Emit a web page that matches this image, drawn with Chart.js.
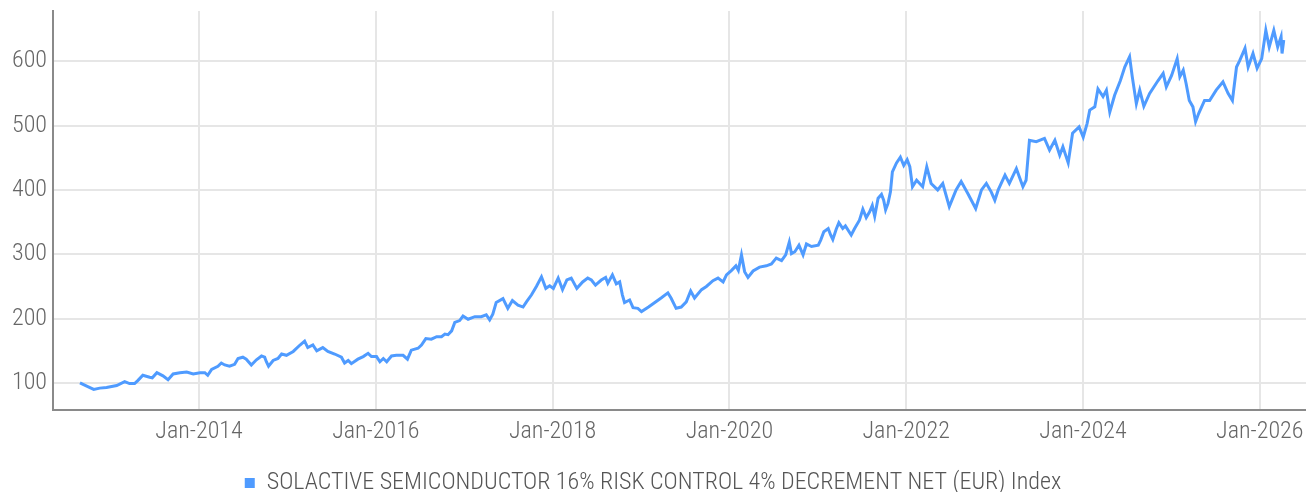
<!DOCTYPE html>
<html>
<head>
<meta charset="utf-8">
<script src="https://cdn.jsdelivr.net/npm/chart.js@4.4.1/dist/chart.umd.min.js"></script>
<style>
  html, body { margin: 0; padding: 0; background: #fff; }
  #wrap { width: 1306px; height: 492px; position: relative; }
</style>
</head>
<body>
<div id="wrap"><canvas id="chart"></canvas></div>
<script>
// Index level (base 100 in Aug 2012)
const seriesLabel = 'SOLACTIVE SEMICONDUCTOR 16% RISK CONTROL 4% DECREMENT NET (EUR) Index';

const dates = [
    '2012-08-27', '2012-09-24', '2012-10-23', '2012-11-17', '2012-12-15', '2013-01-26', '2013-02-28', '2013-03-20',
    '2013-04-10', '2013-04-24', '2013-05-14', '2013-06-11', '2013-06-22', '2013-07-11', '2013-08-05', '2013-08-26',
    '2013-09-16', '2013-10-14', '2013-11-11', '2013-12-08', '2014-01-05', '2014-01-25', '2014-02-06', '2014-02-22',
    '2014-03-20', '2014-04-03', '2014-04-17', '2014-05-07', '2014-05-28', '2014-06-11', '2014-07-01', '2014-07-15',
    '2014-08-05', '2014-08-26', '2014-09-16', '2014-09-29', '2014-10-06', '2014-10-15', '2014-11-03', '2014-11-23',
    '2014-12-08', '2014-12-28', '2015-01-25', '2015-02-22', '2015-03-13', '2015-03-26', '2015-04-16', '2015-05-02',
    '2015-05-27', '2015-06-17', '2015-07-15', '2015-08-12', '2015-08-25', '2015-09-09', '2015-09-22', '2015-10-19',
    '2015-11-10', '2015-11-30', '2015-12-14', '2016-01-04', '2016-01-18', '2016-02-01', '2016-02-15', '2016-03-06',
    '2016-03-26', '2016-04-23', '2016-05-11', '2016-05-27', '2016-06-24', '2016-07-08', '2016-07-26', '2016-08-18',
    '2016-09-09', '2016-09-29', '2016-10-13', '2016-10-26', '2016-11-10', '2016-11-23', '2016-12-13', '2016-12-27',
    '2017-01-17', '2017-02-14', '2017-03-12', '2017-04-02', '2017-04-16', '2017-04-29', '2017-05-13', '2017-06-10',
    '2017-06-30', '2017-07-19', '2017-08-11', '2017-09-01', '2017-09-15', '2017-10-06', '2017-10-26', '2017-11-16',
    '2017-12-04', '2017-12-20', '2018-01-04', '2018-01-24', '2018-02-11', '2018-03-01', '2018-03-19', '2018-04-11',
    '2018-05-05', '2018-05-26', '2018-06-10', '2018-06-27', '2018-07-21', '2018-08-08', '2018-08-17', '2018-09-05',
    '2018-09-21', '2018-10-05', '2018-10-16', '2018-10-25', '2018-11-15', '2018-11-29', '2018-12-19', '2019-01-03',
    '2019-02-01', '2019-02-27', '2019-03-25', '2019-04-22', '2019-05-05', '2019-05-26', '2019-06-16', '2019-07-07',
    '2019-07-25', '2019-08-10', '2019-09-08', '2019-09-28', '2019-10-25', '2019-11-15', '2019-12-06', '2019-12-20',
    '2020-01-10', '2020-01-28', '2020-02-07', '2020-02-20', '2020-03-04', '2020-03-18', '2020-04-08', '2020-05-05',
    '2020-06-02', '2020-06-23', '2020-07-13', '2020-08-04', '2020-08-21', '2020-09-05', '2020-09-14', '2020-09-28',
    '2020-10-15', '2020-11-01', '2020-11-15', '2020-12-06', '2021-01-03', '2021-01-13', '2021-01-26', '2021-02-13',
    '2021-02-23', '2021-03-04', '2021-03-18', '2021-03-29', '2021-04-14', '2021-04-25', '2021-05-19', '2021-06-02',
    '2021-06-22', '2021-07-06', '2021-07-20', '2021-08-03', '2021-08-14', '2021-08-24', '2021-09-07', '2021-09-21',
    '2021-09-30', '2021-10-08', '2021-10-18', '2021-10-28', '2021-11-05', '2021-11-22', '2021-12-08', '2021-12-22',
    '2022-01-05', '2022-01-16', '2022-01-27', '2022-02-13', '2022-03-10', '2022-03-27', '2022-04-14', '2022-05-11',
    '2022-06-01', '2022-06-28', '2022-07-26', '2022-08-16', '2022-09-13', '2022-10-15', '2022-11-08', '2022-11-28',
    '2022-12-18', '2023-01-02', '2023-01-16', '2023-02-13', '2023-03-03', '2023-04-01', '2023-04-28', '2023-05-11',
    '2023-05-25', '2023-06-22', '2023-07-26', '2023-08-16', '2023-09-07', '2023-09-27', '2023-10-10', '2023-11-01',
    '2023-11-19', '2023-12-16', '2024-01-02', '2024-01-18', '2024-01-29', '2024-02-19', '2024-03-03', '2024-03-24',
    '2024-04-07', '2024-04-21', '2024-05-11', '2024-06-04', '2024-06-22', '2024-07-12', '2024-07-23', '2024-08-09',
    '2024-08-23', '2024-09-09', '2024-10-03', '2024-11-07', '2024-11-28', '2024-12-11', '2025-01-02', '2025-01-25',
    '2025-02-05', '2025-02-19', '2025-03-03', '2025-03-16', '2025-03-31', '2025-04-11', '2025-04-24', '2025-05-18',
    '2025-06-08', '2025-07-05', '2025-08-02', '2025-08-23', '2025-09-10', '2025-09-27', '2025-10-10', '2025-11-01',
    '2025-11-14', '2025-12-04', '2025-12-21', '2026-01-09', '2026-01-26', '2026-02-09', '2026-02-28', '2026-03-16',
    '2026-03-30', '2026-04-03', '2026-04-10'
];

const values = [
    100, 95, 90, 92, 93, 96, 102, 99,
    99, 104, 112, 109, 108, 116, 111, 105,
    114, 116, 117, 114, 116, 116, 112, 121,
    126, 131, 128, 126, 129, 138, 140, 137,
    128, 136, 142, 140, 133, 126, 135, 138,
    145, 143, 149, 159, 165, 155, 159, 150,
    155, 149, 145, 140, 131, 135, 130, 137,
    141, 146, 141, 141, 133, 138, 133, 142,
    143, 143, 137, 151, 154, 159, 169, 168,
    172, 172, 176, 175, 181, 194, 197, 204,
    199, 203, 203, 206, 198, 207, 225, 231,
    216, 228, 221, 218, 226, 237, 250, 265,
    247, 251, 247, 263, 245, 260, 263, 247,
    257, 263, 260, 252, 260, 264, 255, 268,
    254, 257, 237, 225, 229, 217, 216, 211,
    218, 225, 232, 240, 232, 216, 218, 226,
    243, 232, 245, 250, 259, 263, 257, 268,
    275, 282, 275, 299, 273, 264, 274, 280,
    282, 285, 294, 290, 299, 319, 301, 304,
    314, 299, 316, 312, 314, 322, 335, 340,
    330, 323, 339, 349, 340, 344, 330, 340,
    353, 370, 357, 366, 376, 359, 387, 393,
    384, 369, 379, 397, 428, 442, 451, 438,
    447, 436, 405, 415, 405, 436, 410, 400,
    410, 374, 400, 413, 394, 371, 400, 410,
    397, 384, 400, 423, 410, 433, 405, 415,
    477, 475, 480, 462, 477, 454, 467, 442,
    488, 498, 482, 503, 524, 529, 557, 545,
    555, 521, 547, 570, 591, 607, 576, 534,
    555, 530, 550, 570, 581, 560, 578, 604,
    576, 586, 565, 539, 529, 506, 519, 539,
    539, 555, 568, 550, 539, 591, 601, 620,
    591, 612, 589, 604, 648, 622, 648, 622,
    638, 612, 633
];

// axis ticks
const xTickYears = [2014, 2016, 2018, 2020, 2022, 2024, 2026];
const yTicks = [100, 200, 300, 400, 500, 600];

// 日期字符串 -> 小数年份，用于线性 x 轴
function toYear(s) {
    const [y, m, d] = s.split('-').map(Number);
    const start = Date.UTC(y, 0, 1);
    const end = Date.UTC(y + 1, 0, 1);
    return y + (Date.UTC(y, m - 1, d) - start) / (end - start);
}

const lineColor = '#4f9bff';
const gridColor = '#e6e6e6';
const axisColor = '#8a8a8a';
const tickColor = '#666666';
const labelFont = { family: "'Liberation Sans Narrow', 'Roboto Condensed', Roboto, sans-serif", size: 24, weight: '300' };

const ctx = document.getElementById('chart').getContext('2d');
new Chart(ctx, {
    type: 'line',
    data: {
        datasets: [{
            label: seriesLabel,
            data: dates.map((d, i) => ({ x: toYear(d), y: values[i] })),
            borderColor: lineColor,
            backgroundColor: lineColor,
            borderWidth: 3,
            pointRadius: 0,
            tension: 0,
            fill: false
        }]
    },
    options: {
        responsive: true,
        maintainAspectRatio: false,
        animation: false,
        layout: { padding: { top: 11, right: 0, left: 0, bottom: -13 } },
        plugins: {
            tooltip: { enabled: false },
            legend: {
                position: 'bottom',
                labels: {
                    color: '#555555',
                    font: labelFont,
                    boxWidth: 10,
                    boxHeight: 10,
                    padding: 4,
                    generateLabels: (chart) => Chart.defaults.plugins.legend.labels.generateLabels(chart)
                        .map(item => ({ ...item, lineWidth: 0 }))
                }
            }
        },
        scales: {
            x: {
                type: 'linear',
                min: 2012.348,
                max: 2026.523,
                afterBuildTicks: (scale) => { scale.ticks = xTickYears.map(v => ({ value: v })); },
                afterFit: (scale) => {
                    scale.height = 57;
                    scale.paddingLeft = 0;
                    scale.paddingRight = 0;
                },
                ticks: {
                    callback: (v) => 'Jan-' + v,
                    autoSkip: false,
                    maxRotation: 0,
                    color: tickColor,
                    font: labelFont,
                    padding: 8
                },
                grid: { color: gridColor, lineWidth: 2, drawTicks: false },
                border: { color: axisColor, width: 2 }
            },
            y: {
                min: 58,
                max: 678,
                afterBuildTicks: (scale) => { scale.ticks = yTicks.map(v => ({ value: v })); },
                afterFit: (scale) => {
                    scale.width = 53;
                    scale.paddingTop = 0;
                    scale.paddingBottom = 0;
                },
                ticks: {
                    color: tickColor,
                    font: labelFont,
                    padding: 6
                },
                grid: { color: gridColor, lineWidth: 2, drawTicks: false },
                border: { color: axisColor, width: 2 }
            }
        }
    }
});
</script>
</body>
</html>
